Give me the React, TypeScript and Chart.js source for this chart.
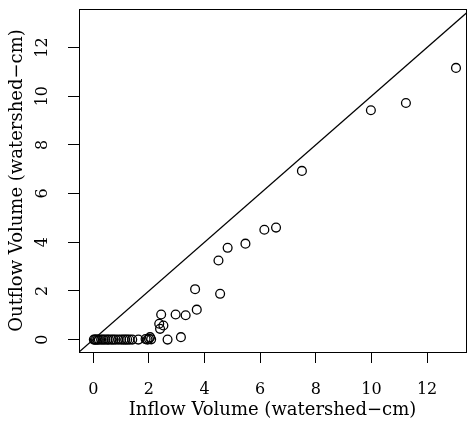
import { useEffect, useRef } from "react";
import { Chart, registerables } from "chart.js";
Chart.register(...registerables);

const inflow = [
  0.02, 0.06, 0.1, 0.15, 0.2, 0.28, 0.35, 0.42, 0.5, 0.56, 0.65, 0.72, 0.8, 0.9, 1.0,
  1.08, 1.15, 1.22, 1.3, 1.4, 1.62, 1.88, 1.95, 2.0, 2.08, 2.04, 2.67, 3.15, 2.37, 2.52,
  2.4, 2.44, 2.96, 3.32, 3.72, 3.66, 4.56, 4.5, 4.83, 5.47, 6.15, 6.57, 7.5, 9.98, 11.24, 13.04,
];
const outflow = [
  0, 0, 0, 0, 0, 0, 0, 0, 0, 0, 0, 0, 0, 0, 0,
  0, 0, 0, 0, 0, 0, 0.02, 0, 0.03, 0.01, 0.1, 0, 0.1, 0.65, 0.58,
  0.44, 1.03, 1.03, 1.0, 1.23, 2.07, 1.88, 3.25, 3.77, 3.94, 4.51, 4.6, 6.93, 9.42, 9.72, 11.16,
];
const xTicks = [0, 2, 4, 6, 8, 10, 12];
const yTicks = [0, 2, 4, 6, 8, 10, 12];
const identityEnds = [-1, 14];
const xTitle = "Inflow Volume (watershed\u2212cm)";
const yTitle = "Outflow Volume (watershed\u2212cm)";

const FONT = "'DejaVu Serif', serif";

export default function App() {
  const ref = useRef<HTMLCanvasElement>(null);
  useEffect(() => {
    document.body.style.margin = "0";
    const canvas = ref.current;
    if (!canvas) return;
    const align = (p: number) => Math.round(p - 0.5) + 0.5;
    const boxPlugin = {
      id: "box",
      afterDraw(chart: any) {
        const { ctx, chartArea: a } = chart;
        ctx.save();
        ctx.strokeStyle = "#000";
        ctx.lineWidth = 1;
        const l = align(a.left), r = align(a.right), t = align(a.top), b = align(a.bottom);
        ctx.strokeRect(l, t, r - l, b - t);
        ctx.restore();
      },
    };
    const chart = new Chart(canvas, {
      type: "scatter",
      data: {
        datasets: [
          {
            type: "line",
            data: identityEnds.map((v) => ({ x: v, y: v })),
            borderColor: "#000",
            borderWidth: 1.2,
            pointRadius: 0,
            fill: false,
          } as any,
          {
            data: inflow.map((x, i) => ({ x, y: outflow[i] })),
            pointStyle: "circle",
            pointRadius: 4.4,
            pointBorderWidth: 1.3,
            borderColor: "#000",
            backgroundColor: "rgba(0,0,0,0)",
          } as any,
        ],
      },
      options: {
        animation: false,
        responsive: false,
        layout: { autoPadding: false, padding: { top: 9, right: 3, left: 0, bottom: 0 } },
        plugins: { legend: { display: false }, tooltip: { enabled: false } },
        scales: {
          x: {
            type: "linear",
            position: "bottom",
            min: -0.514,
            max: 13.4,
            afterBuildTicks: (s: any) => {
              s.ticks = xTicks.map((v) => ({ value: v }));
            },
            afterFit: (s: any) => {
              s.height = 74;
              s.paddingLeft = 0;
              s.paddingRight = 0;
            },
            grid: { drawOnChartArea: false, drawTicks: true, tickLength: 11, color: "#000", lineWidth: 1 },
            border: { display: true, color: "#000", width: 1 },
            ticks: {
              color: "#000",
              font: { family: FONT, size: 16 },
              padding: 17,
              maxRotation: 0,
              autoSkip: false,
              callback: (v: any) => String(v),
            },
            title: {
              display: true,
              text: xTitle,
              color: "#000",
              font: { family: FONT, size: 18 },
              padding: { top: 0, bottom: 5 },
            },
          },
          y: {
            type: "linear",
            position: "left",
            min: -0.51,
            max: 13.58,
            afterBuildTicks: (s: any) => {
              s.ticks = yTicks.map((v) => ({ value: v }));
            },
            afterFit: (s: any) => {
              s.width = 79;
              s.paddingTop = 0;
              s.paddingBottom = 0;
            },
            grid: { drawOnChartArea: false, drawTicks: true, tickLength: 11, color: "#000", lineWidth: 1 },
            border: { display: true, color: "#000", width: 1 },
            ticks: {
              color: "#000",
              font: { family: FONT, size: 16 },
              padding: 15,
              minRotation: 90,
              maxRotation: 90,
              crossAlign: "center",
              autoSkip: false,
              callback: (v: any) => String(v),
            },
            title: {
              display: true,
              text: yTitle,
              color: "#000",
              font: { family: FONT, size: 18 },
              padding: { top: 7, bottom: 0 },
            },
          },
        },
      } as any,
      plugins: [boxPlugin],
    });
    return () => chart.destroy();
  }, []);
  return (
    <div style={{ position: "fixed", left: 0, top: 0, width: 469, height: 426, background: "#fff" }}>
      <canvas ref={ref} width={469} height={426} style={{ display: "block" }} />
    </div>
  );
}
